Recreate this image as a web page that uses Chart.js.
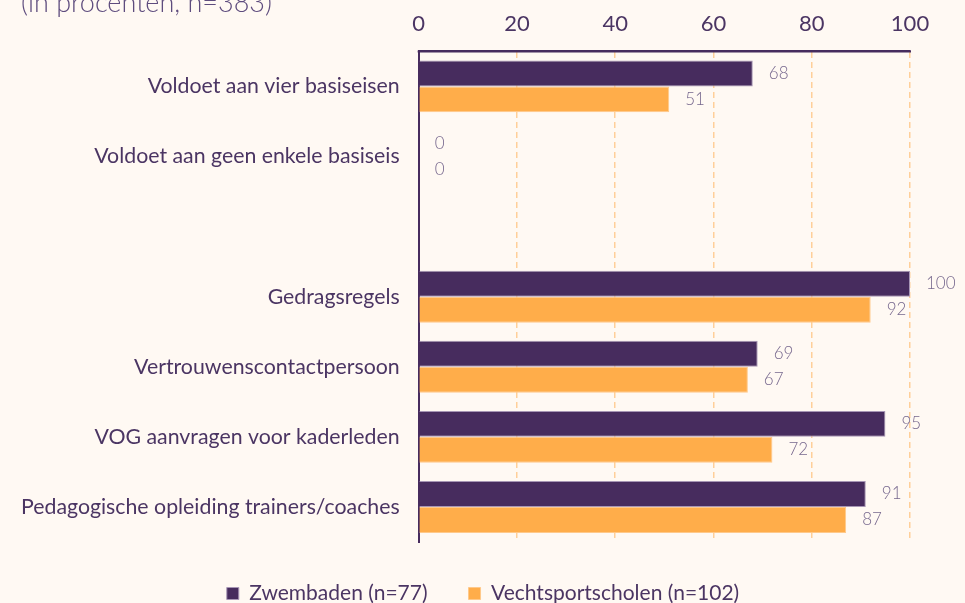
<!DOCTYPE html>
<html>
<head>
<meta charset="utf-8">
<script src="https://cdn.jsdelivr.net/npm/chart.js@4.4.0/dist/chart.umd.min.js"></script>
<style>
  html, body { margin: 0; padding: 0; background: #fff9f3; }
  #wrap { width: 965px; height: 603px; }
</style>
</head>
<body>
<div id="wrap"><canvas id="chart"></canvas></div>
<script>
var categories = [
    'Voldoet aan vier basiseisen',
    'Voldoet aan geen enkele basiseis',
    '',
    'Gedragsregels',
    'Vertrouwenscontactpersoon',
    'VOG aanvragen voor kaderleden',
    'Pedagogische opleiding trainers/coaches'
];
var zwembaden = [68, 0, null, 100, 69, 95, 91];
var vechtsport = [51, 0, null, 92, 67, 72, 87];
var xTicks = [0, 20, 40, 60, 80, 100];

var purple = '#472c5e';
var orange = '#ffad4a';
var textColor = '#4b3563';

// background, cut-off subtitle and top axis line
var backdrop = {
    id: 'backdrop',
    beforeDraw: function(chart) {
        var c = chart.ctx;
        c.save();
        c.fillStyle = '#fff9f3';
        c.fillRect(0, 0, chart.width, chart.height);
        c.fillStyle = '#5e4c7e';
        c.font = '300 27px Lato';
        c.textBaseline = 'alphabetic';
        c.fillText('(in procenten, n=383)', 21, 12);
        c.restore();
    },
    afterLayout: function(chart) {
        // legend sits a bit right of the plot centre
        chart.legend.left += 27;
        chart.legend.right += 27;
    },
    beforeDatasetsDraw: function(chart) {
        var a = chart.chartArea, c = chart.ctx;
        c.save();
        c.strokeStyle = purple;
        c.lineWidth = 2;
        c.beginPath();
        c.moveTo(a.left - 1, a.top);
        c.lineTo(a.right + 1, a.top);
        c.stroke();
        c.restore();
    }
};

// value labels next to the bars
var valueLabels = {
    id: 'valueLabels',
    afterDatasetsDraw: function(chart) {
        var c = chart.ctx;
        c.save();
        c.font = '300 17px Lato';
        c.fillStyle = '#77688e';
        c.textAlign = 'left';
        c.textBaseline = 'middle';
        chart.data.datasets.forEach(function(ds, i) {
            chart.getDatasetMeta(i).data.forEach(function(bar, j) {
                if (ds.data[j] === null) return;
                c.fillText(String(ds.data[j]), bar.x + 16, bar.y);
            });
        });
        c.restore();
    }
};

var ctx = document.getElementById('chart').getContext('2d');

var chart = new Chart(ctx, {
    type: 'bar',
    data: {
        labels: categories,
        datasets: [{
            label: 'Zwembaden (n=77)',
            data: zwembaden,
            backgroundColor: purple,
            borderColor: '#a796b5',
            borderWidth: 1,
            categoryPercentage: 0.74,
            barPercentage: 1
        }, {
            label: 'Vechtsportscholen (n=102)',
            data: vechtsport,
            backgroundColor: orange,
            borderColor: '#ffc98a',
            borderWidth: 1,
            categoryPercentage: 0.74,
            barPercentage: 1
        }]
    },
    options: {
        indexAxis: 'y',
        responsive: true,
        maintainAspectRatio: false,
        animation: false,
        layout: {
            padding: { top: -3, right: 55, left: 2, bottom: -11 }
        },
        scales: {
            x: {
                position: 'top',
                min: 0,
                max: 100,
                afterBuildTicks: function(scale) {
                    scale.ticks = xTicks.map(function(v) { return { value: v }; });
                },
                grid: {
                    color: '#ffcf99',
                    lineWidth: 1.5,
                    drawTicks: false
                },
                border: {
                    color: purple,
                    width: 2,
                    dash: [6, 4]
                },
                ticks: {
                    color: textColor,
                    font: { family: 'Lato', size: 22 },
                    padding: 14
                }
            },
            y: {
                grid: { display: false, drawTicks: false },
                border: { color: purple, width: 2 },
                ticks: {
                    color: textColor,
                    font: { family: 'Lato', size: 21.3 },
                    padding: 19
                }
            }
        },
        plugins: {
            legend: {
                position: 'bottom',
                labels: {
                    color: textColor,
                    font: { family: 'Lato', size: 21 },
                    boxWidth: 12,
                    boxHeight: 12,
                    padding: 41
                }
            },
            tooltip: { enabled: false }
        }
    },
    plugins: [backdrop, valueLabels]
});
</script>
</body>
</html>
